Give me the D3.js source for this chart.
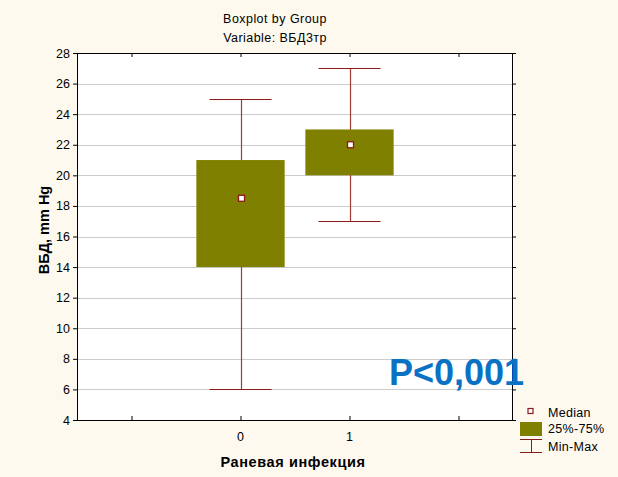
<!DOCTYPE html>
<html><head><meta charset="utf-8">
<script src="https://cdn.jsdelivr.net/npm/d3@7"></script>
<style>
html,body{margin:0;padding:0;background:#fdf9ef;}
svg{display:block;font-family:Arial,"Liberation Sans",sans-serif;}
</style></head>
<body>
<svg id="c" width="618" height="477"></svg>
<script>
const groups = [0, 1];
const minVals = [6, 17];
const q1Vals = [14, 20];
const medianVals = [18.5, 22];
const q3Vals = [21, 23];
const maxVals = [25, 27];
const yTicks = [4, 6, 8, 10, 12, 14, 16, 18, 20, 22, 24, 26, 28];
const xTicks = [-1, 0, 1, 2];
const xLabels = ["", "0", "1", ""];

const svg = d3.select("#c");
const W = 618, H = 477;
const L = 77, R = 513, T = 53, B = 420;
svg.append("rect").attr("width", W).attr("height", H).attr("fill", "#fdf9ef");

const x = d3.scaleLinear().domain([-1.5, 2.5]).range([L, R]);
const y = d3.scaleLinear().domain([4, 28]).range([B, T]);

svg.append("rect").attr("x", L).attr("y", T).attr("width", R - L).attr("height", B - T).attr("fill", "#fff");

// gridlines
svg.append("g").selectAll("line").data(yTicks.filter(d => d > 4 && d < 28)).join("line")
  .attr("x1", L).attr("x2", R)
  .attr("y1", d => Math.round(y(d)) + 0.5).attr("y2", d => Math.round(y(d)) + 0.5)
  .attr("stroke", "#cccccc").attr("stroke-width", 1);

const data = groups.map((g, i) => ({g, min: minVals[i], q1: q1Vals[i], med: medianVals[i], q3: q3Vals[i], max: maxVals[i]}));
const wc = "#8b1a1a";
const boxW = 0.81, capW = 0.57;
const gb = svg.append("g");
data.forEach(d => {
  const cx = Math.round(x(d.g)) + 0.5;
  gb.append("line").attr("x1", cx).attr("x2", cx).attr("y1", y(d.min)).attr("y2", y(d.max))
    .attr("stroke", "#a33a3a").attr("stroke-width", 1.2);
  [d.min, d.max].forEach(v => {
    gb.append("line").attr("x1", x(d.g - capW / 2)).attr("x2", x(d.g + capW / 2))
      .attr("y1", Math.round(y(v)) + 0.5).attr("y2", Math.round(y(v)) + 0.5)
      .attr("stroke", wc).attr("stroke-width", 1.2);
  });
  gb.append("rect").attr("x", x(d.g - boxW / 2)).attr("width", x(d.g + boxW / 2) - x(d.g - boxW / 2))
    .attr("y", y(d.q3)).attr("height", y(d.q1) - y(d.q3)).attr("fill", "#808000");
  gb.append("rect").attr("x", cx - 3).attr("y", y(d.med) - 3).attr("width", 6).attr("height", 6)
    .attr("fill", "#fff").attr("stroke", wc).attr("stroke-width", 1.3);
});

// axes
const ax = svg.append("g");
ax.append("g").attr("transform", `translate(${L},0)`)
  .call(d3.axisLeft(y).tickValues(yTicks).tickSize(4).tickFormat(d3.format("d")))
  .call(g => { g.select(".domain").remove(); g.selectAll("text").attr("font-size", 12.5).attr("fill", "#000").attr("font-family", "Arial, Liberation Sans, sans-serif"); g.selectAll("line").attr("stroke", "#000"); });
ax.append("g").attr("transform", `translate(${R},0)`)
  .call(d3.axisRight(y).tickValues(yTicks).tickSize(3).tickFormat(""))
  .call(g => { g.select(".domain").remove(); g.selectAll("line").attr("stroke", "#000"); });
ax.append("g").attr("transform", `translate(0,${B})`)
  .call(d3.axisTop(x).tickValues(xTicks).tickSize(4).tickFormat(""))
  .call(g => { g.select(".domain").remove(); g.selectAll("line").attr("stroke", "#000"); });
ax.append("g").attr("transform", `translate(0,${T})`)
  .call(d3.axisBottom(x).tickValues(xTicks).tickSize(4).tickFormat(""))
  .call(g => { g.select(".domain").remove(); g.selectAll("line").attr("stroke", "#000"); });
ax.append("g").selectAll("text").data(xTicks).join("text")
  .attr("x", d => x(d)).attr("y", 441).attr("text-anchor", "middle").attr("font-size", 12.5)
  .text((d, i) => xLabels[i]);
svg.append("rect").attr("x", L + 0.5).attr("y", T + 0.5).attr("width", R - L - 1).attr("height", B - T)
  .attr("fill", "none").attr("stroke", "#000").attr("stroke-width", 1);

// titles
svg.append("text").attr("x", 275).attr("y", 23).attr("text-anchor", "middle").attr("font-size", 12.5)
  .attr("letter-spacing", 0.45).text("Boxplot by Group");
svg.append("text").attr("x", 275).attr("y", 42).attr("text-anchor", "middle").attr("font-size", 12.5)
  .attr("letter-spacing", 0.45).text("Variable: ВБД3тр");
svg.append("text").attr("transform", "translate(48.5,230) rotate(-90)").attr("text-anchor", "middle")
  .attr("font-size", 14.5).attr("font-weight", "bold").text("ВБД, mm Hg");
svg.append("text").attr("x", 293).attr("y", 467).attr("text-anchor", "middle")
  .attr("font-size", 14.5).attr("font-weight", "bold").attr("letter-spacing", 0.6).text("Раневая инфекция");

svg.append("text").attr("x", 389).attr("y", 384.5).attr("font-size", 36).attr("font-weight", "bold")
  .attr("fill", "#0a72c4").text("P<0,001");

// legend
const lg = svg.append("g");
lg.append("rect").attr("x", 528).attr("y", 408.5).attr("width", 5).attr("height", 5).attr("fill", "#fff").attr("stroke", wc).attr("stroke-width", 1.2);
lg.append("rect").attr("x", 520).attr("y", 422).attr("width", 22).attr("height", 14).attr("fill", "#808000");
lg.append("line").attr("x1", 531.5).attr("x2", 531.5).attr("y1", 439).attr("y2", 452).attr("stroke", wc);
lg.append("line").attr("x1", 520).attr("x2", 542).attr("y1", 439.5).attr("y2", 439.5).attr("stroke", wc);
lg.append("line").attr("x1", 520).attr("x2", 542).attr("y1", 452.5).attr("y2", 452.5).attr("stroke", wc);
const lt = ["Median", "25%-75%", "Min-Max"];
lg.selectAll("text.l").data(lt).join("text").attr("class", "l")
  .attr("x", 548).attr("y", (d, i) => [417, 433, 451][i]).attr("font-size", 12.5).attr("letter-spacing", 0.3).text(d => d);
</script>
</body></html>
